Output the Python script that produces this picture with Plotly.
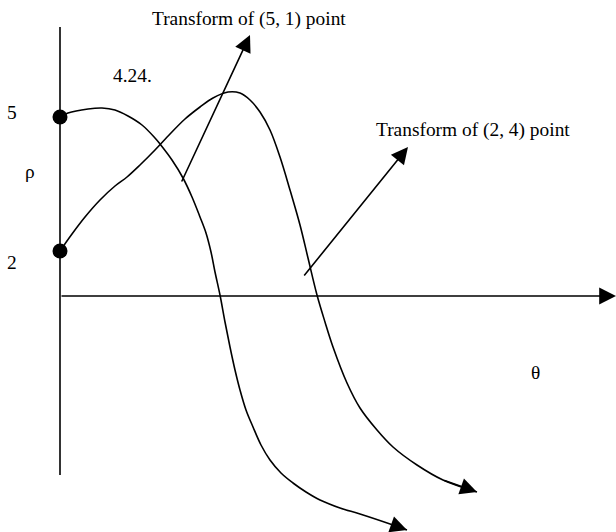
import plotly.graph_objects as go

# sketch coordinates (x to the right, y downwards, same frame as the drawing)
curve_a_x = [60, 68, 88, 102, 115, 128, 142, 155, 160, 172, 183, 192, 200, 206, 211, 215, 220, 225, 230, 235,
             240, 246, 253, 261, 270, 281, 293, 306, 320, 340, 360, 393, 407]
curve_a_y = [117, 113, 109, 108, 110, 116, 125, 138, 144, 160, 178, 197, 217, 233, 252, 272, 295, 322, 347, 370,
             390, 410, 427, 445, 460, 473, 483, 492, 500, 508, 514, 525, 530]

curve_b_x = [60, 72, 85, 100, 115, 127, 140, 155, 170, 185, 200, 213, 228, 240, 250, 260, 270, 280, 290, 300,
             308, 317, 325, 333, 347, 360, 377, 393, 417, 443, 477]
curve_b_y = [251, 234, 217, 200, 186, 177, 165, 150, 134, 119, 107, 98, 92, 93, 100, 112, 130, 157, 190, 225,
             258, 295, 322, 347, 383, 408, 430, 447, 465, 480, 492]

start_x = [60, 60]
start_y = [117, 251]

# straight arrows: tail -> tip
arrow_tail_x = [181, 303]
arrow_tail_y = [183, 277]
arrow_tip_x = [250, 408]
arrow_tip_y = [35, 147]

# axes
v_axis_x = [60, 60]
v_axis_y = [27, 475]
h_axis_x = [60, 616]
h_axis_y = [296, 296]

labels = ["Transform of (5, 1) point", "Transform of (2, 4) point", "4.24.", "5", "ρ", "2", "θ"]
label_x = [249, 473, 132, 12, 30, 12, 535]
label_y = [19, 130, 75, 112, 171, 262, 372]

ink = "black"
lw = 1.6

fig = go.Figure()
fig.add_trace(go.Scatter(x=v_axis_x, y=v_axis_y, mode="lines", line=dict(color=ink, width=lw)))
fig.add_trace(go.Scatter(x=curve_a_x, y=curve_a_y, mode="lines",
                         line=dict(color=ink, width=lw, shape="spline", smoothing=1)))
fig.add_trace(go.Scatter(x=curve_b_x, y=curve_b_y, mode="lines",
                         line=dict(color=ink, width=lw, shape="spline", smoothing=1)))
fig.add_trace(go.Scatter(x=start_x, y=start_y, mode="markers",
                         marker=dict(color=ink, size=15)))

def arrow(x0, y0, x1, y1):
    fig.add_annotation(x=x1, y=y1, ax=x0, ay=y0, xref="x", yref="y", axref="x", ayref="y",
                       text="", showarrow=True, arrowhead=2, arrowsize=2.1, arrowwidth=lw,
                       arrowcolor=ink, standoff=0, startstandoff=0)

for i in range(len(arrow_tip_x)):
    arrow(arrow_tail_x[i], arrow_tail_y[i], arrow_tip_x[i], arrow_tip_y[i])

# heads at the ends of the curves and of the theta axis
arrow(curve_a_x[-2], curve_a_y[-2], curve_a_x[-1], curve_a_y[-1])
arrow(curve_b_x[-2], curve_b_y[-2], curve_b_x[-1], curve_b_y[-1])
arrow(h_axis_x[0], h_axis_y[0], h_axis_x[1], h_axis_y[1])

for t, x, y in zip(labels, label_x, label_y):
    fig.add_annotation(x=x, y=y, xref="x", yref="y", text=t, showarrow=False,
                       font=dict(family="Liberation Serif", size=19.4, color=ink))

fig.update_xaxes(range=[0, 616], visible=False)
fig.update_yaxes(range=[532, 0], visible=False)
fig.update_layout(width=616, height=532, margin=dict(l=0, r=0, t=0, b=0),
                  paper_bgcolor="white", plot_bgcolor="white", showlegend=False)

fig.write_html("out.html", config={"displayModeBar": False},
               post_script="document.body.style.margin='0';")
